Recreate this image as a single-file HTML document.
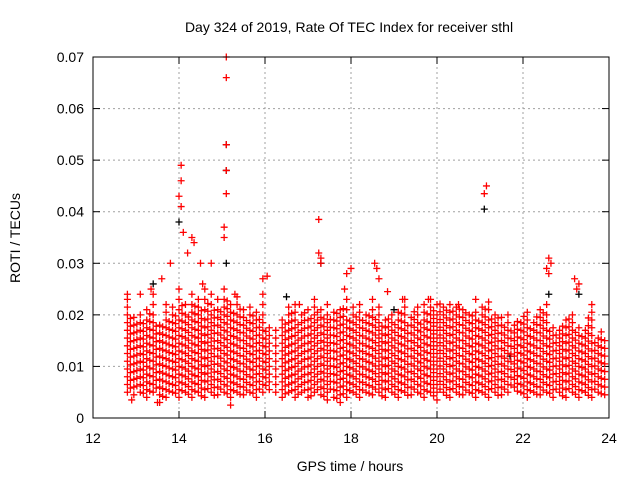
<!DOCTYPE html>
<html><head><meta charset="utf-8"><style>
html,body{margin:0;padding:0;background:#fff;}
svg{display:block;font-family:"Liberation Sans",sans-serif;}
</style></head><body>
<svg id="chart" width="640" height="480" viewBox="0 0 640 480">
<text x="349" y="32" font-size="14" text-anchor="middle">Day 324 of 2019, Rate Of TEC Index for receiver sthl</text>
<text x="350" y="471" font-size="14" text-anchor="middle">GPS time / hours</text>
<text x="20" y="238" font-size="14" text-anchor="middle" transform="rotate(-90 20 238)">ROTI / TECUs</text>
<g id="grid"></g>
<g id="ticks"></g>
<g id="black"></g>
<g id="red"></g>
<rect x="93" y="57" width="516" height="361" fill="none" stroke="#000" stroke-width="1"/>
</svg>
<script>
const xTicks = [12,14,16,18,20,22,24];
const yTicks = [0,0.01,0.02,0.03,0.04,0.05,0.06,0.07];
const yTickLabels = ["0","0.01","0.02","0.03","0.04","0.05","0.06","0.07"];
const stripeTimes = [12.80,12.95,13.10,13.25,13.40,13.55,13.70,13.85,14.00,14.15,14.30,14.45,14.60,14.75,14.90,15.05,15.20,15.35,15.50,15.65,15.80,15.95,16.10,16.25,16.40,16.55,16.70,16.85,17.00,17.15,17.30,17.45,17.60,17.75,17.90,18.05,18.20,18.35,18.50,18.65,18.80,18.95,19.10,19.25,19.40,19.55,19.70,19.85,20.00,20.15,20.30,20.45,20.60,20.75,20.90,21.05,21.20,21.35,21.50,21.65,21.80,21.95,22.10,22.25,22.40,22.55,22.70,22.85,23.00,23.15,23.30,23.45,23.60,23.75,23.90];
const stripeValues = [
"5 6.5 8 9.5 11 12.5 14 15.5 17 18.5 20 21.5 23 24",
"4.5 6 7.5 9 10.5 12 13.5 15 16.5 18 19.5",
"5 6.5 8 9.5 11 12.5 14 15.5 17 18.5 20",
"4 5.5 7 8.5 10 11.5 13 14.5 16 17.5 19 21",
"5 6.5 8 9.5 11 12.5 14 15.5 17 18.5 20 22 24",
"3 4.5 6 7.5 9 10.5 12 13.5 15 16.5 18",
"4 5.5 7 8.5 10 11.5 13 14.5 16 17.5 19 20.5 22",
"5 6.5 8 9.5 11 12.5 14 15.5 17 18.5 20 21.5",
"4 5.5 7 8.5 10 11.5 13 14.5 16 17.5 19 21 23 25",
"5 6.5 8 9.5 11 12.5 14 15.5 17 18.5 20 22",
"4 5.5 7 8.5 10 11.5 13 14.5 16 17.5 19 20.5 22 24",
"5 6.5 8 9.5 11 12.5 14 15.5 17 18.5 20 21.5 23",
"4 5.5 7 8.5 10 11.5 13 14.5 16 17.5 19 21 23 25",
"5 6.5 8 9.5 11 12.5 14 15.5 17 18.5 20 22 24",
"4.5 6 7.5 9 10.5 12 13.5 15 16.5 18 19.5 21 23",
"5 6.5 8 9.5 11 12.5 14 15.5 17 18.5 20 21.5 23 25",
"4 5.5 7 8.5 10 11.5 13 14.5 16 17.5 19 20.5 22",
"5 6.5 8 9.5 11 12.5 14 15.5 17 18.5 20 22 23.5",
"4.5 6 7.5 9 10.5 12 13.5 15 16.5 18 19.5 21",
"5 6.5 8 9.5 11 12.5 14 15.5 17 18.5 20 21.5",
"4 5.5 7 8.5 10 11.5 13 14.5 16 17.5 19 20.5",
"5 6.5 8 9.5 11 12.5 14 15.5 17 18.5 20 22 24",
"5.5 7 8.5 10 11.5 13 14.5 16 17.5",
"5 6.5 8 9.5 11 12.5 14 15.5 17",
"4 5.5 7 8.5 10 11.5 13 14.5 16 17.5 19",
"5 6.5 8 9.5 11 12.5 14 15.5 17 18.5 20 21.5",
"4 5.5 7 8.5 10 11.5 13 14.5 16 17.5 19 20.5 22",
"5 6.5 8 9.5 11 12.5 14 15.5 17 18.5 20",
"4 5.5 7 8.5 10 11.5 13 14.5 16 17.5 19 21",
"5 6.5 8 9.5 11 12.5 14 15.5 17 18.5 20 21.5 23",
"4.5 6 7.5 9 10.5 12 13.5 15 16.5 18 19.5 21",
"3.5 5 6.5 8 9.5 11 12.5 14 15.5 17 18.5 20 22",
"4 5.5 7 8.5 10 11.5 13 14.5 16 17.5 19 20.5",
"3 4.5 6 7.5 9 10.5 12 13.5 15 16.5 18 19.5 21",
"4 5.5 7 8.5 10 11.5 13 14.5 16 17.5 19 21 23",
"5 6.5 8 9.5 11 12.5 14 15.5 17 18.5 20 21.5",
"4 5.5 7 8.5 10 11.5 13 14.5 16 17.5 19 20.5 22",
"5 6.5 8 9.5 11 12.5 14 15.5 17 18.5 20",
"4.5 6 7.5 9 10.5 12 13.5 15 16.5 18 19.5 21 23",
"5 6.5 8 9.5 11 12.5 14 15.5 17 18.5 20 21.5",
"4 5.5 7 8.5 10 11.5 13 14.5 16 17.5 19",
"5 6.5 8 9.5 11 12.5 14 15.5 17 18.5 20",
"4 5.5 7 8.5 10 11.5 13 14.5 16 17.5 19 20.5",
"5 6.5 8 9.5 11 12.5 14 15.5 17 18.5 20 21.5 23",
"4.5 6 7.5 9 10.5 12 13.5 15 16.5 18 19.5",
"5 6.5 8 9.5 11 12.5 14 15.5 17 18.5 20 21.5",
"4 5.5 7 8.5 10 11.5 13 14.5 16 17.5 19 20.5 22",
"5 6.5 8 9.5 11 12.5 14 15.5 17 18.5 20 21.5 23",
"3.5 5 6.5 8 9.5 11 12.5 14 15.5 17 18.5 20 22",
"5 6.5 8 9.5 11 12.5 14 15.5 17 18.5 20 21.5",
"4 5.5 7 8.5 10 11.5 13 14.5 16 17.5 19 20.5 22",
"5 6.5 8 9.5 11 12.5 14 15.5 17 18.5 20 21.5",
"4.5 6 7.5 9 10.5 12 13.5 15 16.5 18 19.5 21",
"5 6.5 8 9.5 11 12.5 14 15.5 17 18.5 20",
"4 5.5 7 8.5 10 11.5 13 14.5 16 17.5 19 20.5",
"5 6.5 8 9.5 11 12.5 14 15.5 17 18.5 20 21.5",
"4 5.5 7 8.5 10 11.5 13 14.5 16 17.5 19 21 22.5",
"5 6.5 8 9.5 11 12.5 14 15.5 17 18.5 20",
"4.5 6 7.5 9 10.5 12 13.5 15 16.5 18 19.5",
"5 6.5 8 9.5 11 12.5 14 15.5 17 18.5 20",
"6 7.5 9 10.5 12 13.5 15 16.5 18",
"5 6.5 8 9.5 11 12.5 14 15.5 17 18.5",
"4 5.5 7 8.5 10 11.5 13 14.5 16 17.5 19 20.5",
"5 6.5 8 9.5 11 12.5 14 15.5 17 18.5",
"4.5 6 7.5 9 10.5 12 13.5 15 16.5 18 19.5 21",
"5 6.5 8 9.5 11 12.5 14 15.5 17 18.5 20 22",
"4 5.5 7 8.5 10 11.5 13 14.5 16 17.5",
"5 6.5 8 9.5 11 12.5 14 15.5 17",
"4 5.5 7 8.5 10 11.5 13 14.5 16 17.5 19",
"5 6.5 8 9.5 11 12.5 14 15.5 17 18.5 20",
"4 5.5 7 8.5 10 11.5 13 14.5 16 17.5",
"5 6.5 8 9.5 11 12.5 14 15.5 17",
"4 5.5 7 8.5 10 11.5 13 14.5 16 17.5 19 20.5",
"5 6.5 8 9.5 11 12.5 14 15.5",
"4.5 6 7.5 9 10.5 12 13.5 15"
];
const stripeTimes2 = [12.87,13.02,13.17,13.32,13.47,13.62,13.77,13.92,14.07,14.22,14.37,14.52,14.67,14.82,14.97,15.12,15.27,15.42,15.57,15.72,15.87,16.02,16.47,16.62,16.77,16.92,17.07,17.22,17.37,17.52,17.67,17.82,17.97,18.12,18.27,18.42,18.57,18.72,18.87,19.02,19.17,19.32,19.47,19.62,19.77,19.92,20.07,20.22,20.37,20.52,20.67,20.82,20.97,21.12,21.27,21.42,21.57,21.72,21.87,22.02,22.17,22.32,22.47,22.62,22.77,22.92,23.07,23.22,23.37,23.52,23.67,23.82];
const stripeValues2 = [
"5.8 7.3 8.8 10.3 11.8 13.3 14.8 16.3 17.8 19.3",
"6.2 7.7 9.2 10.7 12.2 13.7 15.2 16.7 18.2",
"4.8 6.3 7.8 9.3 10.8 12.3 13.8 15.3 16.8 18.3",
"5.2 6.7 8.2 9.7 11.2 12.7 14.2 15.7 17.2 18.7 20.2",
"5.8 7.3 8.8 10.3 11.8 13.3 14.8 16.3 17.8",
"4.2 5.7 7.2 8.7 10.2 11.7 13.2 14.7 16.2 17.7",
"5.2 6.7 8.2 9.7 11.2 12.7 14.2 15.7 17.2 18.7",
"4.8 6.3 7.8 9.3 10.8 12.3 13.8 15.3 16.8 18.3 19.8",
"5.3 6.8 8.3 9.8 11.3 12.8 14.3 15.8 17.3 18.8 20.3 21.8",
"4.6 6.1 7.6 9.1 10.6 12.1 13.6 15.1 16.6 18.1 19.6",
"5.2 6.7 8.2 9.7 11.2 12.7 14.2 15.7 17.2 18.7 20.2 21.7",
"4.3 5.8 7.3 8.8 10.3 11.8 13.3 14.8 16.3 17.8 19.3 20.8",
"5.7 7.2 8.7 10.2 11.7 13.2 14.7 16.2 17.7 19.2 20.7 22.2",
"4.4 5.9 7.4 8.9 10.4 11.9 13.4 14.9 16.4 17.9 19.4 20.9",
"5.6 7.1 8.6 10.1 11.6 13.1 14.6 16.1 17.6 19.1 20.6",
"4.7 6.2 7.7 9.2 10.7 12.2 13.7 15.2 16.7 18.2 19.7 21.2 22.7",
"5.3 6.8 8.3 9.8 11.3 12.8 14.3 15.8 17.3 18.8 20.3",
"4.6 6.1 7.6 9.1 10.6 12.1 13.6 15.1 16.6 18.1 19.6 21.1",
"5.4 6.9 8.4 9.9 11.4 12.9 14.4 15.9 17.4 18.9",
"4.8 6.3 7.8 9.3 10.8 12.3 13.8 15.3 16.8 18.3 19.8",
"5.6 7.1 8.6 10.1 11.6 13.1 14.6 16.1 17.6 19.1",
"6.3 7.8 9.3 10.8 12.3 13.8 15.3 16.8",
"4.7 6.2 7.7 9.2 10.7 12.2 13.7 15.2 16.7 18.2",
"5.3 6.8 8.3 9.8 11.3 12.8 14.3 15.8 17.3 18.8 20.3",
"4.6 6.1 7.6 9.1 10.6 12.1 13.6 15.1 16.6 18.1",
"5.4 6.9 8.4 9.9 11.4 12.9 14.4 15.9 17.4 18.9 20.4",
"4.3 5.8 7.3 8.8 10.3 11.8 13.3 14.8 16.3 17.8 19.3",
"5.5 7 8.5 10 11.5 13 14.5 16 17.5 19 20.5",
"4.2 5.7 7.2 8.7 10.2 11.7 13.2 14.7 16.2 17.7 19.2",
"5.6 7.1 8.6 10.1 11.6 13.1 14.6 16.1 17.6 19.1",
"3.8 5.3 6.8 8.3 9.8 11.3 12.8 14.3 15.8 17.3 18.8 20.3",
"4.7 6.2 7.7 9.2 10.7 12.2 13.7 15.2 16.7 18.2 19.7 21.2",
"5.3 6.8 8.3 9.8 11.3 12.8 14.3 15.8 17.3 18.8",
"4.6 6.1 7.6 9.1 10.6 12.1 13.6 15.1 16.6 18.1 19.6",
"5.4 6.9 8.4 9.9 11.4 12.9 14.4 15.9 17.4 18.9",
"4.8 6.3 7.8 9.3 10.8 12.3 13.8 15.3 16.8 18.3 19.8",
"5.6 7.1 8.6 10.1 11.6 13.1 14.6 16.1 17.6 19.1",
"4.3 5.8 7.3 8.8 10.3 11.8 13.3 14.8 16.3 17.8",
"5.7 7.2 8.7 10.2 11.7 13.2 14.7 16.2 17.7 19.2",
"4.6 6.1 7.6 9.1 10.6 12.1 13.6 15.1 16.6 18.1",
"5.3 6.8 8.3 9.8 11.3 12.8 14.3 15.8 17.3 18.8 20.3",
"4.4 5.9 7.4 8.9 10.4 11.9 13.4 14.9 16.4 17.9",
"5.6 7.1 8.6 10.1 11.6 13.1 14.6 16.1 17.6 19.1 20.6",
"4.7 6.2 7.7 9.2 10.7 12.2 13.7 15.2 16.7 18.2",
"5.2 6.7 8.2 9.7 11.2 12.7 14.2 15.7 17.2 18.7 20.2",
"4.3 5.8 7.3 8.8 10.3 11.8 13.3 14.8 16.3 17.8 19.3 20.8",
"5.6 7.1 8.6 10.1 11.6 13.1 14.6 16.1 17.6 19.1 20.6 22.1",
"4.4 5.9 7.4 8.9 10.4 11.9 13.4 14.9 16.4 17.9 19.4 20.9",
"5.7 7.2 8.7 10.2 11.7 13.2 14.7 16.2 17.7 19.2 20.7",
"4.6 6.1 7.6 9.1 10.6 12.1 13.6 15.1 16.6 18.1 19.6 21.1",
"5.4 6.9 8.4 9.9 11.4 12.9 14.4 15.9 17.4 18.9 20.4",
"4.8 6.3 7.8 9.3 10.8 12.3 13.8 15.3 16.8 18.3 19.8",
"5.3 6.8 8.3 9.8 11.3 12.8 14.3 15.8 17.3 18.8",
"4.6 6.1 7.6 9.1 10.6 12.1 13.6 15.1 16.6 18.1 19.6 21.1",
"5.7 7.2 8.7 10.2 11.7 13.2 14.7 16.2 17.7 19.2",
"4.4 5.9 7.4 8.9 10.4 11.9 13.4 14.9 16.4 17.9 19.4",
"5.6 7.1 8.6 10.1 11.6 13.1 14.6 16.1 17.6",
"6.4 7.9 9.4 10.9 12.4 13.9 15.4 16.9",
"5.2 6.7 8.2 9.7 11.2 12.7 14.2 15.7 17.2 18.7",
"4.7 6.2 7.7 9.2 10.7 12.2 13.7 15.2 16.7 18.2 19.7",
"5.3 6.8 8.3 9.8 11.3 12.8 14.3 15.8 17.3",
"4.6 6.1 7.6 9.1 10.6 12.1 13.6 15.1 16.6 18.1 19.6",
"5.4 6.9 8.4 9.9 11.4 12.9 14.4 15.9 17.4 18.9 20.4",
"4.8 6.3 7.8 9.3 10.8 12.3 13.8 15.3 16.8",
"5.6 7.1 8.6 10.1 11.6 13.1 14.6 16.1",
"4.3 5.8 7.3 8.8 10.3 11.8 13.3 14.8 16.3 17.8",
"5.7 7.2 8.7 10.2 11.7 13.2 14.7 16.2 17.7 19.2",
"4.6 6.1 7.6 9.1 10.6 12.1 13.6 15.1 16.6",
"5.3 6.8 8.3 9.8 11.3 12.8 14.3 15.8",
"4.4 5.9 7.4 8.9 10.4 11.9 13.4 14.9 16.4 17.9 19.4",
"5.6 7.1 8.6 10.1 11.6 13.1 14.6",
"4.7 6.2 7.7 9.2 10.7 12.2 13.7 15.2 16.7"
];
const outlierTimes = [14.05,14.05,14.0,14.05,14.1,14.3,14.35,14.2,14.5,15.1,15.1,15.1,15.1,15.1,15.05,15.05,14.75,13.8,13.6,15.95,16.05,17.25,17.25,17.3,17.3,17.9,18.0,18.55,18.6,18.65,21.15,21.1,22.6,22.65,22.55,22.6,23.2,23.3,23.25,23.6,14.55,15.3,15.2,17.85,18.85,13.35,13.1,16.8,19.2,19.8,20.5,20.9,12.9,13.5];
const outlierValues = [0.049,0.046,0.043,0.041,0.036,0.035,0.034,0.032,0.030,0.070,0.066,0.053,0.048,0.0435,0.037,0.035,0.030,0.030,0.027,0.027,0.0275,0.0385,0.032,0.030,0.031,0.028,0.029,0.030,0.029,0.027,0.045,0.0435,0.031,0.030,0.029,0.028,0.027,0.026,0.025,0.022,0.026,0.024,0.0025,0.025,0.0245,0.025,0.024,0.022,0.023,0.023,0.022,0.023,0.0035,0.003];
const blackTimes = [14.0,21.1,15.1,15.1,15.1,17.3,16.5,22.6,23.3,13.4,19.0,21.7];
const blackValues = [0.038,0.0405,0.048,0.053,0.030,0.030,0.0235,0.024,0.024,0.026,0.021,0.012];

const X0=93,X1=609,Y0=418,Y1=57;
const xScale=t=>X0+(t-12)/(24-12)*(X1-X0);
const yScale=v=>Y0-v/0.07*(Y0-Y1);
const NS="http://www.w3.org/2000/svg";
const grid=document.getElementById('grid'), ticks=document.getElementById('ticks');
function mk(tag,parent,attrs){const e=document.createElementNS(NS,tag);for(const k in attrs)e.setAttribute(k,attrs[k]);parent.appendChild(e);return e;}
xTicks.forEach((t,i)=>{
  const x=xScale(t);
  if(i>0&&i<xTicks.length-1){const g=mk('line',grid,{x1:x,x2:x,y1:Y1,y2:Y0,stroke:'#a0a0a0','stroke-dasharray':'2,3'});
    
    }
  mk('line',ticks,{x1:x,x2:x,y1:Y0,y2:Y0-7,stroke:'#000'});
  mk('line',ticks,{x1:x,x2:x,y1:Y1,y2:Y1+7,stroke:'#000'});
  const l=mk('text',ticks,{x:x,y:Y0+25,'font-size':14,'text-anchor':'middle'});l.textContent=t;
  
  
});
yTicks.forEach((v,i)=>{
  const y=yScale(v);
  if(i>0&&i<yTicks.length-1){const g=mk('line',grid,{x1:X0,x2:X1,y1:y,y2:y,stroke:'#a0a0a0','stroke-dasharray':'2,3'});
    
    }
  mk('line',ticks,{x1:X0,x2:X0+7,y1:y,y2:y,stroke:'#000'});
  mk('line',ticks,{x1:X1,x2:X1-7,y1:y,y2:y,stroke:'#000'});
  const l=mk('text',ticks,{x:X0-9,y:y+5,'font-size':14,'text-anchor':'end'});l.textContent=yTickLabels[i];
  
  
});
function plus(parent,t,v,color,name){
  const x=xScale(t),y=yScale(v);
  const p=mk('path',parent,{d:`M${x-3.5} ${y}h7M${x} ${y-3.5}v7`,stroke:color,'stroke-width':1.3,fill:'none'});
  
  
}
const blackG=document.getElementById('black'), redG=document.getElementById('red');
blackTimes.forEach((t,i)=>plus(blackG,t,blackValues[i],'#000','black-point'));
stripeTimes.forEach((t,i)=>{
  stripeValues[i].split(' ').map(Number).forEach(v=>plus(redG,t,v/1000,'#ff0000','red-point'));
});
stripeTimes2.forEach((t,i)=>{
  stripeValues2[i].split(' ').map(Number).forEach(v=>plus(redG,t,v/1000,'#ff0000','red-point'));
});
outlierTimes.forEach((t,i)=>plus(redG,t,outlierValues[i],'#ff0000','red-outlier'));
</script>
</body></html>
